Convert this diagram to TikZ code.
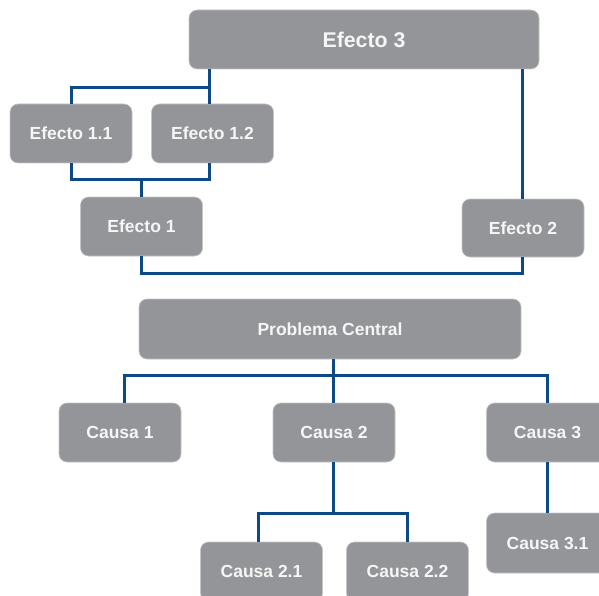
\documentclass[tikz,border=0pt]{standalone}
\usepackage{fontspec}
\setmainfont{Liberation Sans}
\usetikzlibrary{calc}
\definecolor{boxgray}{HTML}{939598}
\definecolor{boxedge}{HTML}{C4C5C7}
\definecolor{linkblue}{HTML}{0B4A84}
\definecolor{txtwhite}{HTML}{F6F6F6}
\begin{document}
\begin{tikzpicture}[x=1pt,y=-1pt,
  box/.style={rectangle, rounded corners=8pt, fill=boxgray, draw=boxedge, line width=0.6pt,
    text=txtwhite, font=\bfseries\fontsize{17.5}{20}\selectfont, inner sep=0pt,
    minimum width=122pt, minimum height=59pt},
  link/.style={draw=linkblue, line width=3pt, line join=miter}]
\useasboundingbox (0,0) rectangle (599,596);
% nodes
\node[box, minimum width=350pt, font=\bfseries\fontsize{21.3}{25}\selectfont] (E3) at (364,39.5) {Efecto 3};
\node[box] (E11) at (71,133.5) {Efecto 1.1};
\node[box] (E12) at (212.5,133.5) {Efecto 1.2};
\node[box] (E1) at (141.5,226.5) {Efecto 1};
\node[box, minimum height=58pt] (E2) at (523,228) {Efecto 2};
\node[box, minimum width=382pt, minimum height=60pt] (PC) at (330,329) {Problema Central};
\node[box] (C1) at (120,432.5) {Causa 1};
\node[box] (C2) at (334,432.5) {Causa 2};
\node[box] (C3) at (547.5,432.5) {Causa 3};
\node[box, minimum height=60pt] (C31) at (547.5,543) {Causa 3.1};
\node[box] (C21) at (261.5,571.5) {Causa 2.1};
\node[box] (C22) at (407.5,571.5) {Causa 2.2};
% anchor points where connectors meet the boxes
\coordinate (E12n) at ([xshift=-3.5pt]E12.north);
\coordinate (E12s) at ([xshift=-3.5pt]E12.south);
\coordinate (E2n) at ([xshift=-1pt]E2.north);
\coordinate (E2s) at ([xshift=-1pt]E2.south);
\coordinate (C1n) at ([xshift=4pt]C1.north);
\coordinate (C2n) at ([xshift=-1pt]C2.north);
\coordinate (C2s) at ([xshift=-1pt]C2.south);
\coordinate (C21n) at ([xshift=-3.5pt]C21.north);
% junction levels
\coordinate (jA) at (0,88);
\coordinate (jB) at (0,180);
\coordinate (jC) at (0,273);
\coordinate (jD) at (0,375);
\coordinate (jE) at (0,513);
% connectors (effects)
\draw[link] (E3.south -| E12n) -- (E12n);
\draw[link] (E11.north) |- (E12n |- jA);
\draw[link] (E11.south) |- (E12s |- jB) -- (E12s);
\draw[link] (E1.north |- jB) -- (E1.north);
\draw[link] (E1.south) |- (E2s |- jC) -- (E2s);
\draw[link] (E2n) -- (E2n |- E3.south);
% connectors (causes)
\draw[link] (C2n |- PC.south) -- (C2n);
\draw[link] (C1n) |- (C3.north |- jD) -- (C3.north);
\draw[link] (C2s) -- (C2s |- jE);
\draw[link] (C21n) |- (C22.north |- jE) -- (C22.north);
\draw[link] (C3.south) -- (C31.north);
\end{tikzpicture}
\end{document}
